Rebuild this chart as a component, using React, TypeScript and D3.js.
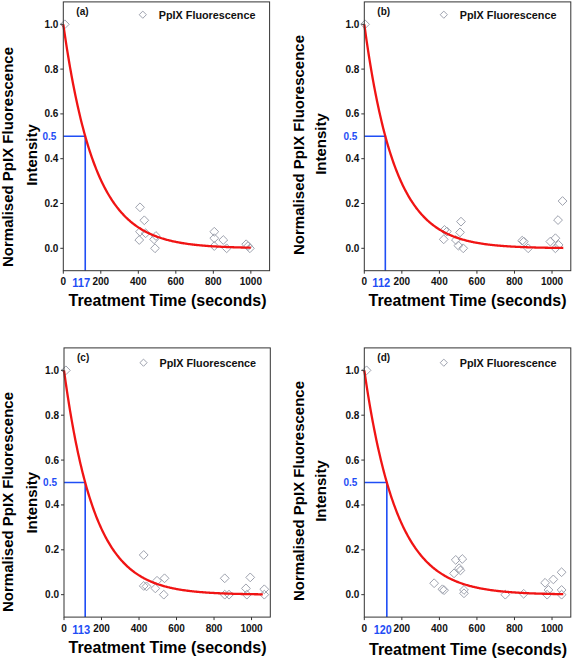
import React from "react";
import * as d3 from "d3";

// ---------- data ----------
const PANEL_LABELS = ["(a)", "(b)", "(c)", "(d)"];
const HALF_LIFE = [117, 112, 113, 120];
const CURVE_END = [1000, 1060, 1060, 1060];
const X_TICKS = [0, 200, 400, 600, 800, 1000];
const Y_TICKS = [0.0, 0.2, 0.4, 0.6, 0.8, 1.0];
const HALF_VALUE = 0.5;
const LEGEND_TEXT = "PpIX Fluorescence";
const X_TITLE = "Treatment Time (seconds)";
const Y_TITLE_1 = "Normalised PpIX Fluorescence";
const Y_TITLE_2 = "Intensity";

const TIME_A = [8, 409, 432, 409, 439, 405, 484, 494, 489, 805, 805, 805, 853, 871, 975, 985, 995];
const INTENSITY_A = [1.0, 0.183, 0.125, 0.074, 0.067, 0.037, 0.04, 0.055, 0.0, 0.074, 0.045, 0.01, 0.037, 0.0, 0.018, 0.01, 0.0];

const TIME_B = [4, 427, 440, 423, 515, 510, 488, 501, 527, 841, 850, 873, 991, 1018, 1018, 1035, 1032, 1056];
const INTENSITY_B = [1.0, 0.082, 0.075, 0.04, 0.119, 0.071, 0.037, 0.012, 0.0, 0.034, 0.03, 0.0, 0.03, 0.045, 0.0, 0.015, 0.126, 0.211];

const TIME_C = [10, 425, 425, 440, 487, 496, 536, 532, 857, 857, 880, 993, 970, 975, 1068, 1068];
const INTENSITY_C = [1.0, 0.177, 0.039, 0.037, 0.028, 0.062, 0.073, 0.0, 0.073, 0.0, 0.0, 0.077, 0.028, 0.0, 0.024, 0.0];

const TIME_D = [12, 372, 416, 425, 487, 522, 505, 512, 478, 531, 531, 751, 849, 963, 1007, 1051, 981, 974, 1051, 1051];
const INTENSITY_D = [1.0, 0.051, 0.024, 0.02, 0.155, 0.159, 0.118, 0.108, 0.095, 0.021, 0.006, 0.0, 0.004, 0.053, 0.068, 0.1, 0.021, 0.0, 0.021, 0.0];

const TIMES = [TIME_A, TIME_B, TIME_C, TIME_D];
const INTENSITIES = [INTENSITY_A, INTENSITY_B, INTENSITY_C, INTENSITY_D];

// ---------- layout ----------
const LAYOUT = [
  { x: 63.3, y: 1.9, w: 206.3, h: 268.8, y1x: 12.5, y1c: 157, y2x: 36.5, y2c: 155, xlc: 167.5, xlb: 306 },
  { x: 364.3, y: 1.9, w: 206.5, h: 268.8, y1x: 304, y1c: 145, y2x: 325.7, y2c: 144, xlc: 467.5, xlb: 306 },
  { x: 64, y: 347.9, w: 206.3, h: 269.2, y1x: 12.5, y1c: 502, y2x: 36.5, y2c: 502.7, xlc: 167.5, xlb: 653 },
  { x: 364.3, y: 347.9, w: 206.5, h: 269.2, y1x: 304, y1c: 491, y2x: 326, y2c: 491, xlc: 468, xlb: 655 },
];

const FONT = "'Liberation Sans', Arial, Helvetica, sans-serif";
const BLUE = "#1f4ef5";
const RED = "#f01414";
const MARK = "#9ea2ae";

function diamond(cx: number, cy: number, r: number) {
  return `M${cx},${cy - r}L${cx + r},${cy}L${cx},${cy + r}L${cx - r},${cy}Z`;
}

function Panel({ i }: { i: number }) {
  const L = LAYOUT[i];
  const x = d3.scaleLinear().domain([0, 1100]).range([L.x, L.x + L.w]);
  const y = d3.scaleLinear().domain([-0.1, 1.1]).range([L.y + L.h, L.y]);
  const T = HALF_LIFE[i];
  const k = Math.LN2 / T;
  const curveT = d3.range(0, CURVE_END[i] + 0.001, 4);
  const line = d3
    .line<number>()
    .x((t) => x(t))
    .y((t) => y(Math.exp(-k * t)));
  const bottom = L.y + L.h;
  const times = TIMES[i];
  const vals = INTENSITIES[i];
  return (
    <g>
      {/* blue half-life guides */}
      <path
        d={`M${x(0)},${y(HALF_VALUE)}H${x(T)}V${bottom}`}
        fill="none"
        stroke={BLUE}
        strokeWidth={1.6}
      />
      {/* data points */}
      {times.map((t, j) => (
        <path key={j} d={diamond(x(t), y(vals[j]), 4.4)} fill="none" stroke={MARK} strokeWidth={1} />
      ))}
      {/* fit curve */}
      <path d={line(curveT) || ""} fill="none" stroke={RED} strokeWidth={2.3} />
      {/* frame */}
      <rect x={L.x} y={L.y} width={L.w} height={L.h} fill="none" stroke="#333" strokeWidth={1} />
      {/* y ticks */}
      {Y_TICKS.map((v) => (
        <g key={"y" + v}>
          <line x1={L.x - 3} x2={L.x} y1={y(v)} y2={y(v)} stroke="#333" />
          <text
            x={L.x - 5}
            y={y(v)}
            dy="0.35em"
            textAnchor="end"
            fontFamily={FONT}
            fontWeight="bold"
            fontSize={10}
            fill="#111"
          >
            {v.toFixed(1)}
          </text>
        </g>
      ))}
      {/* x ticks */}
      {X_TICKS.map((v) => (
        <g key={"x" + v}>
          <line x1={x(v)} x2={x(v)} y1={bottom} y2={bottom + 3} stroke="#333" />
          <text
            x={x(v)}
            y={bottom + 14.5}
            textAnchor="middle"
            fontFamily={FONT}
            fontWeight="bold"
            fontSize={10}
            fill="#111"
          >
            {v}
          </text>
        </g>
      ))}
      {/* blue labels */}
      <text
        x={L.x - 7}
        y={y(HALF_VALUE)}
        dy="0.35em"
        textAnchor="end"
        fontFamily={FONT}
        fontWeight="bold"
        fontSize={10}
        fill={BLUE}
      >
        {HALF_VALUE.toFixed(1)}
      </text>
      <text
        x={x(T) - 4}
        y={bottom + 16.5}
        textAnchor="middle"
        fontFamily={FONT}
        fontWeight="bold"
        fontSize={12}
        textLength={18}
        lengthAdjust="spacingAndGlyphs"
        fill={BLUE}
      >
        {T}
      </text>
      {/* panel label */}
      <text x={L.x + 13} y={L.y + 13.5} fontFamily={FONT} fontWeight="bold" fontSize={10} fill="#111">
        {PANEL_LABELS[i]}
      </text>
      {/* legend */}
      <path d={diamond(L.x + 79.5, L.y + (i < 2 ? 12.8 : 14.8), 3.6)} fill="none" stroke={MARK} strokeWidth={1} />
      <text
        x={L.x + 95.5}
        y={L.y + (i < 2 ? 16.8 : 18.8)}
        fontFamily={FONT}
        fontWeight="bold"
        fontSize={10.8}
        fill="#111"
      >
        {LEGEND_TEXT}
      </text>
      {/* axis titles */}
      <text
        x={L.xlc}
        y={L.xlb}
        textAnchor="middle"
        fontFamily={FONT}
        fontWeight="bold"
        fontSize={16}
        fill="#000"
      >
        {X_TITLE}
      </text>
      <text
        transform={`translate(${L.y1x},${L.y1c}) rotate(-90)`}
        textAnchor="middle"
        fontFamily={FONT}
        fontWeight="bold"
        fontSize={15}
        fill="#000"
      >
        {Y_TITLE_1}
      </text>
      <text
        transform={`translate(${L.y2x},${L.y2c}) rotate(-90)`}
        textAnchor="middle"
        fontFamily={FONT}
        fontWeight="bold"
        fontSize={15}
        fill="#000"
      >
        {Y_TITLE_2}
      </text>
    </g>
  );
}

export default function App() {
  return (
    <svg
      width={573}
      height={658}
      viewBox="0 0 573 658"
      style={{ position: "absolute", left: 0, top: 0, background: "#fff" }}
    >
      <rect x={0} y={0} width={573} height={658} fill="#fff" />
      {[0, 1, 2, 3].map((i) => (
        <Panel key={i} i={i} />
      ))}
    </svg>
  );
}
